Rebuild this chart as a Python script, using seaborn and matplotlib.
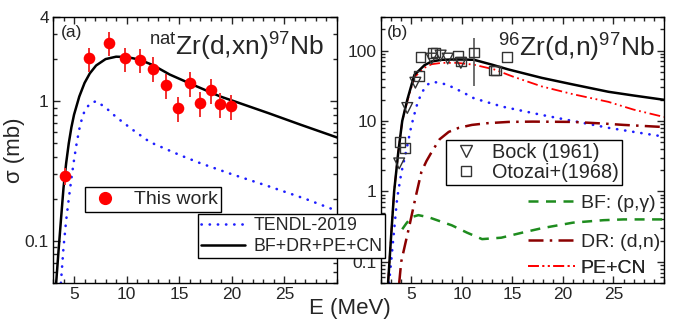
import numpy as np
import pandas as pd
import matplotlib
matplotlib.use("Agg")
import matplotlib.pyplot as plt
from matplotlib.lines import Line2D
import seaborn as sns

# ---------------- data ----------------
# Panel (a): natZr(d,xn)97Nb
a_exp_E = [4.13, 6.44, 8.3, 9.8, 11.25, 12.5, 13.75, 14.9, 16.0, 17.0, 18.0, 18.85, 19.9]
a_exp_sig = [0.29, 2.02, 2.62, 2.02, 1.98, 1.71, 1.30, 0.89, 1.34, 0.97, 1.20, 0.95, 0.92]
a_exp_err = [0.04, 0.40, 0.52, 0.40, 0.40, 0.35, 0.27, 0.18, 0.27, 0.20, 0.24, 0.19, 0.19]
a_exp_xerr = [0.3, 0.3, 0.3, 0.3, 0.3, 0.3, 0.3, 0.3, 0.3, 0.3, 0.3, 0.3, 0.3]

a_tot_E = [3.3, 3.5, 3.75, 4.0, 4.25, 4.5, 4.75, 5.0, 5.5, 6.0, 6.5, 7.1, 8.0, 9.0, 10.0, 11.25, 12.5, 14.1, 16.0, 18.9, 20.2, 23.5, 26.5, 30.0]
a_tot_sig = [0.05, 0.08, 0.14, 0.24, 0.36, 0.50, 0.65, 0.80, 1.08, 1.35, 1.58, 1.80, 2.00, 2.08, 2.07, 1.98, 1.81, 1.55, 1.34, 1.08, 1.00, 0.82, 0.68, 0.55]

a_tendl_E = [3.75, 4.0, 4.25, 4.5, 4.75, 5.0, 5.25, 5.5, 5.75, 6.0, 6.5, 7.1, 8.0, 9.0, 10.5, 12.2, 15.1, 17.0, 20.0, 23.5, 27.0, 30.0]
a_tendl_sig = [0.05, 0.09, 0.14, 0.2, 0.28, 0.38, 0.50, 0.63, 0.75, 0.85, 0.96, 1.00, 0.90, 0.77, 0.63, 0.51, 0.41, 0.36, 0.30, 0.246, 0.20, 0.164]

# Panel (b): 96Zr(d,n)97Nb
bock_E = [3.8, 4.6, 5.4, 7.0, 7.9, 8.6, 9.9]
bock_sig = [2.5, 15.3, 35.0, 77.0, 85.0, 77.0, 67.0]

oto_E = [3.9, 4.4, 5.8, 5.9, 7.1, 7.4, 9.6, 9.9, 11.2, 13.2, 13.4, 14.5]
oto_sig = [5.0, 4.1, 44.0, 82.0, 92.0, 94.0, 85.0, 70.0, 94.0, 52.0, 52.0, 82.0]
oto_errE = [11.2]
oto_errsig = [94.0]
oto_err_lo = [63.0]
oto_err_hi = [59.0]

b_tot_E = [2.7, 3.0, 3.3, 3.7, 4.1, 4.6, 5.3, 6.3, 7.0, 8.0, 9.5, 11.2, 13.0, 14.6, 17.9, 21.0, 24.5, 27.0, 30.0]
b_tot_sig = [0.05, 0.23, 1.0, 3.5, 10.0, 20.0, 45.0, 62.0, 70.0, 74.0, 75.0, 74.0, 63.0, 54.0, 41.0, 33.0, 26.0, 23.0, 20.0]

b_pe_E = [2.7, 3.0, 3.3, 3.7, 4.1, 4.6, 5.3, 6.3, 7.0, 8.0, 9.5, 11.2, 13.2, 15.0, 17.9, 21.0, 24.5, 27.0, 30.0]
b_pe_sig = [0.05, 0.23, 1.0, 3.5, 10.0, 19.0, 42.0, 57.0, 64.0, 67.0, 67.0, 63.0, 54.0, 43.0, 31.0, 24.0, 18.7, 14.5, 11.4]

b_tendl_E = [2.8, 3.2, 3.6, 4.0, 4.5, 5.0, 5.5, 6.0, 6.6, 7.2, 8.5, 10.0, 11.2, 14.0, 17.9, 21.0, 24.5, 27.0, 30.0]
b_tendl_sig = [0.05, 0.2, 0.8, 1.8, 3.8, 8.5, 16.0, 25.0, 33.0, 36.0, 33.0, 26.0, 21.0, 16.0, 12.2, 10.0, 8.0, 7.0, 6.0]

b_dr_E = [3.8, 4.0, 4.4, 4.8, 5.4, 6.0, 6.5, 7.0, 7.8, 8.7, 9.7, 11.0, 12.5, 14.6, 17.0, 21.0, 24.0, 26.0, 28.0, 30.0]
b_dr_sig = [0.05, 0.10, 0.18, 0.32, 0.8, 1.9, 2.7, 3.6, 5.5, 7.0, 8.0, 8.8, 9.3, 9.7, 9.8, 9.7, 9.2, 8.8, 8.5, 8.2]

b_bf_E = [4.1, 4.5, 5.0, 5.7, 6.7, 8.0, 9.0, 10.5, 12.0, 13.9, 16.0, 17.9, 21.0, 24.0, 26.0, 30.0]
b_bf_sig = [0.29, 0.35, 0.43, 0.46, 0.43, 0.37, 0.33, 0.26, 0.21, 0.22, 0.26, 0.30, 0.36, 0.39, 0.40, 0.40]

x_ticks = [5, 10, 15, 20, 25]
a_yticks = [0.1, 1, 4]
a_yticklabels = ["0.1", "1", "4"]
b_yticks = [0.1, 1, 10, 100]
b_yticklabels = ["0.1", "1", "10", "100"]

# ---------------- style ----------------
sns.set_style("ticks")
plt.rcParams["font.family"] = ["Liberation Sans", "DejaVu Sans"]
plt.rcParams["mathtext.fontset"] = "custom"
plt.rcParams["mathtext.rm"] = "Liberation Sans"
plt.rcParams["mathtext.it"] = "Liberation Sans:italic"
plt.rcParams["axes.linewidth"] = 1.0

BLUE = "#1f1fff"
RED = "#ff0000"
DRED = "#8b0000"
GREEN = "#1e8c1e"
GRAY = "#333333"

dot_ls = (0, (0.1, 3.0))
dr_ls = (0, (6, 2.5, 1, 2.5))
pe_ls = (0, (6, 2, 1, 2, 1, 2))
bf_ls = (0, (4, 3))

fig = plt.figure(figsize=(6.73, 3.23), dpi=100)
ax_a = fig.add_axes([53 / 673, 40 / 323, 284 / 673, 266 / 323])
ax_b = fig.add_axes([381 / 673, 40 / 323, 283 / 673, 266 / 323])
ax_a.set_zorder(3)


def line(ax, x, y, **kw):
    df = pd.DataFrame({"E": x, "s": y})
    sns.lineplot(data=df, x="E", y="s", ax=ax, estimator=None, sort=False, legend=False, **kw)
    return ax.lines[-1]


# ---------------- panel (a) ----------------
line(ax_a, a_tendl_E, a_tendl_sig, color=BLUE, lw=1.9, linestyle=dot_ls, dash_capstyle="round")
line(ax_a, a_tot_E, a_tot_sig, color="black", lw=1.8)
ax_a.errorbar(a_exp_E, a_exp_sig, yerr=a_exp_err, xerr=a_exp_xerr, fmt="none", ecolor="#f03030", elinewidth=1.4, zorder=4)
sns.scatterplot(x=a_exp_E, y=a_exp_sig, ax=ax_a, color=RED, s=70, edgecolor=RED, linewidth=0, zorder=5, legend=False)

ax_a.set_yscale("log")
ax_a.set_xlim(3, 30)
ax_a.set_ylim(0.05, 4)
ax_a.set_yticks(a_yticks)
ax_a.set_yticklabels(a_yticklabels)
ax_a.set_xticks(x_ticks)
ax_a.set_xlabel("")
ax_a.set_ylabel("σ (mb)", fontsize=16)
ax_a.yaxis.set_label_coords(-0.1, 0.5)

# ---------------- panel (b) ----------------
line(ax_b, b_tendl_E, b_tendl_sig, color=BLUE, lw=1.9, linestyle=dot_ls, dash_capstyle="round")
line(ax_b, b_dr_E, b_dr_sig, color=DRED, lw=1.8, linestyle=dr_ls)
line(ax_b, b_bf_E, b_bf_sig, color=GREEN, lw=1.8, linestyle=bf_ls)
line(ax_b, b_pe_E, b_pe_sig, color=RED, lw=1.3, linestyle=pe_ls)
line(ax_b, b_tot_E, b_tot_sig, color="black", lw=1.8)
ax_b.errorbar(oto_errE, oto_errsig, yerr=[oto_err_lo, oto_err_hi], fmt="none", ecolor="#555555", elinewidth=1.2, zorder=4)
sns.scatterplot(x=bock_E, y=bock_sig, ax=ax_b, marker="v", s=60, facecolor="none", edgecolor=GRAY, linewidth=1.0, zorder=5, legend=False)
sns.scatterplot(x=oto_E, y=oto_sig, ax=ax_b, marker="s", s=50, facecolor="none", edgecolor=GRAY, linewidth=1.0, zorder=5, legend=False)

ax_b.set_yscale("log")
ax_b.set_xlim(2, 30)
ax_b.set_ylim(0.05, 300)
ax_b.set_yticks(b_yticks)
ax_b.set_yticklabels(b_yticklabels)
ax_b.set_xticks(x_ticks)
ax_b.set_xlabel("")
ax_b.set_ylabel("")

for ax in (ax_a, ax_b):
    ax.xaxis.set_minor_locator(matplotlib.ticker.MultipleLocator(1))
    ax.tick_params(which="both", direction="in", top=True, right=True, labelsize=12.5, width=1.0)
    ax.tick_params(which="major", length=5, pad=3)
    ax.tick_params(which="minor", length=3)
    for sp in ax.spines.values():
        sp.set_visible(True)
        sp.set_linewidth(1.0)
        sp.set_color("black")

# ---------------- texts ----------------
ax_a.text(0.028, 0.94, "(a)", transform=ax_a.transAxes, fontsize=12.5, va="center", ha="left")
ax_b.text(0.021, 0.94, "(b)", transform=ax_b.transAxes, fontsize=12.5, va="center", ha="left")
ax_a.text(0.955, 0.855, r"$^{\mathregular{nat}}$Zr(d,xn)$^{\mathregular{97}}$Nb", transform=ax_a.transAxes,
          fontsize=19, ha="right", va="baseline")
ax_b.text(0.968, 0.85, r"$^{\mathregular{96}}$Zr(d,n)$^{\mathregular{97}}$Nb", transform=ax_b.transAxes,
          fontsize=19, ha="right", va="baseline")
fig.text(0.52, 0.045, "E (MeV)", fontsize=16, ha="center", va="center")

# ---------------- legends ----------------
lkw = dict(frameon=True, fancybox=False, edgecolor="black", framealpha=1.0, borderaxespad=0)

h_this = Line2D([], [], marker="o", color=RED, linestyle="none", markersize=8.5)
leg1 = ax_a.legend([h_this], ["This work"], loc="upper left", bbox_to_anchor=(0.113, 0.361),
                   fontsize=14, handlelength=1.6, handletextpad=0.7, borderpad=0.2, **lkw)
leg1.get_frame().set_linewidth(1.0)
ax_a.add_artist(leg1)

h_t = Line2D([], [], color=BLUE, lw=1.9, linestyle=dot_ls, dash_capstyle="round")
h_k = Line2D([], [], color="black", lw=1.8)
leg2 = ax_a.legend([h_t, h_k], ["TENDL-2019", "BF+DR+PE+CN"], loc="upper left", bbox_to_anchor=(0.511, 0.259),
                   fontsize=12.8, handlelength=2.5, handletextpad=0.45, borderpad=0.15, labelspacing=0.25, **lkw)
leg2.get_frame().set_linewidth(1.0)

h_bock = Line2D([], [], marker="v", markerfacecolor="none", markeredgecolor=GRAY, linestyle="none", markersize=8)
h_oto = Line2D([], [], marker="s", markerfacecolor="none", markeredgecolor=GRAY, linestyle="none", markersize=7)
leg3 = ax_b.legend([h_bock, h_oto], ["Bock (1961)", "Otozai+(1968)"], loc="upper left", bbox_to_anchor=(0.23, 0.538),
                   fontsize=14.3, handlelength=1.7, handletextpad=0.45, borderpad=0.15, labelspacing=0.05, **lkw)
leg3.get_frame().set_linewidth(1.0)
ax_b.add_artist(leg3)

hb = Line2D([], [], color=GREEN, lw=1.8, linestyle=bf_ls)
hd = Line2D([], [], color=DRED, lw=1.8, linestyle=dr_ls)
hp = Line2D([], [], color=RED, lw=1.3, linestyle=pe_ls)
for h, lab, yc in [(hb, "BF: (p,γ)", 0.30), (hd, "DR: (d,n)", 0.154), (hp, "PE+CN", 0.056)]:
    lg = ax_b.legend([h], [lab], loc="center left", bbox_to_anchor=(0.52, yc), frameon=False,
                     fontsize=14, handlelength=2.5, handletextpad=0.2, borderpad=0, borderaxespad=0)
    ax_b.add_artist(lg)

fig.savefig("out.png", dpi=100)
